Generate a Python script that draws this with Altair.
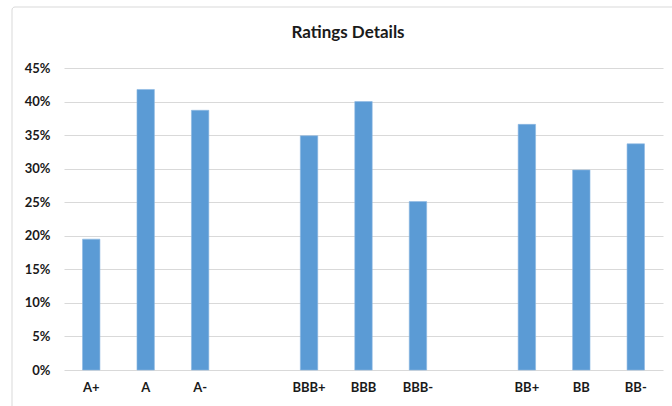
import altair as alt
import pandas as pd

# Rating buckets, grouped by letter grade
group_a = ["A+", "A", "A-"]
group_bbb = ["BBB+", "BBB", "BBB-"]
group_bb = ["BB+", "BB", "BB-"]

# Share of each rating, in percent
values_a = [19.5, 41.8, 38.7]
values_bbb = [34.9, 40.0, 25.1]
values_bb = [36.6, 29.8, 33.7]

y_ticks = [0, 5, 10, 15, 20, 25, 30, 35, 40, 45]
title_text = "Ratings Details"

ratings = group_a + group_bbb + group_bb
shares = values_a + values_bbb + values_bb
df = pd.DataFrame({"rating": ratings, "share": shares})

# Empty slots separate the three groups on the category axis
x_domain = group_a + [" "] + group_bbb + ["  "] + group_bb

FONT = "Lato"
W, H = 599, 302

bars = alt.Chart(df).mark_bar(color="#5B9BD5", stroke="#8DB8E3", strokeWidth=0.6).encode(
    x=alt.X(
        "rating:N",
        sort=x_domain,
        scale=alt.Scale(domain=x_domain, paddingInner=0.68, paddingOuter=0.34),
        axis=alt.Axis(
            title=None,
            labelAngle=0,
            labelFont=FONT,
            labelFontWeight="bold",
            labelFontSize=13,
            labelColor="#1a1a1a",
            labelPadding=11,
            ticks=False,
            tickSize=0,
            domain=False,
            grid=False,
        ),
    ),
    y=alt.Y(
        "share:Q",
        scale=alt.Scale(domain=[0, 45], nice=False),
        axis=alt.Axis(
            title=None,
            values=y_ticks,
            labelExpr="datum.value + '%'",
            labelFont=FONT,
            labelFontWeight="bold",
            labelFontSize=13,
            labelColor="#1a1a1a",
            labelPadding=14,
            ticks=False,
            tickSize=0,
            domain=False,
            grid=True,
            gridColor="#D9D9D9",
            gridWidth=1,
        ),
    ),
)

# Chart-area frame, running off the right and bottom edges
frame = alt.Chart(pd.DataFrame({"k": [0]})).mark_rect(
    fill=None, stroke="#D9D9D9", strokeWidth=1, cornerRadius=3
).encode(
    x=alt.value(-52),
    x2=alt.value(W + 40),
    y=alt.value(-61),
    y2=alt.value(H + 60),
)

# Chart title, centred on the chart area
title = alt.Chart(pd.DataFrame({"t": [title_text]})).mark_text(
    font=FONT, fontSize=17, fontWeight="bold", color="#1a1a1a",
    align="center", baseline="alphabetic",
).encode(
    text="t:N",
    x=alt.value(284),
    y=alt.value(-30),
)

chart = (
    alt.layer(frame, bars, title)
    .properties(
        width=W,
        height=H,
        autosize=alt.AutoSizeParams(type="none"),
        padding={"left": 64, "top": 68, "right": 9, "bottom": 36},
        background="white",
    )
    .configure_view(stroke=None)
)

chart.save("out.html", embed_options={"renderer": "svg", "actions": False})
